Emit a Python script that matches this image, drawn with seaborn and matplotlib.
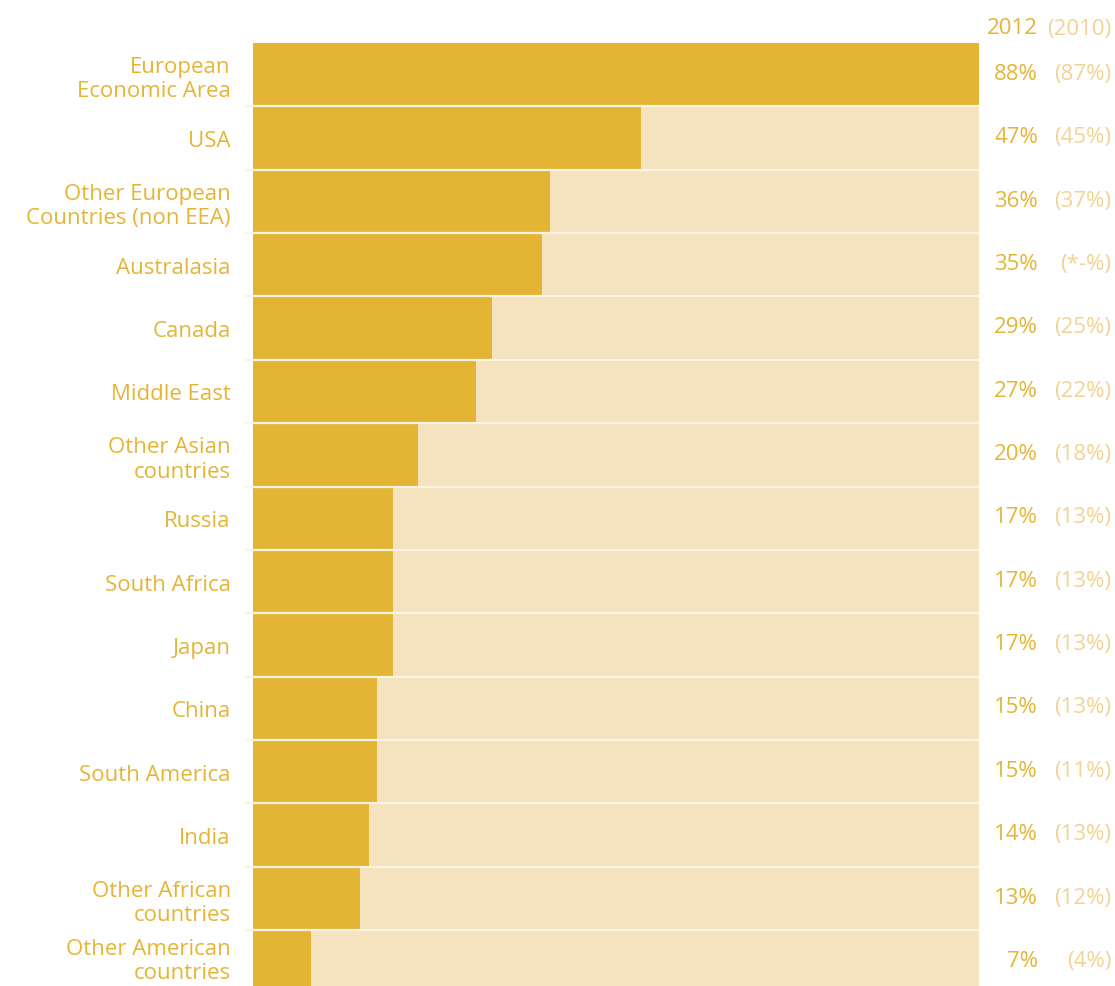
import matplotlib
matplotlib.use("Agg")
import matplotlib.pyplot as plt
import matplotlib.transforms as mtransforms
import seaborn as sns
import pandas as pd

# Share of respondents by region, 2012 with 2010 in brackets
regions = [
    "European\nEconomic Area", "USA", "Other European\nCountries (non EEA)",
    "Australasia", "Canada", "Middle East", "Other Asian\ncountries", "Russia",
    "South Africa", "Japan", "China", "South America", "India",
    "Other African\ncountries", "Other American\ncountries",
]
pct_2012 = [88, 47, 36, 35, 29, 27, 20, 17, 17, 17, 15, 15, 14, 13, 7]
pct_2010 = [87, 45, 37, None, 25, 22, 18, 13, 13, 13, 13, 11, 13, 12, 4]
year_labels = ["2012", "(2010)"]

GOLD = "#E4B535"
CREAM = "#F5E3BF"
PALE = "#F1D394"
SEP = "#FCF3E3"
FS = 16
W = "normal"

sns.set_theme(style="white")
plt.rcParams["font.family"] = ["Open Sans", "DejaVu Sans"]

df = pd.DataFrame({"region": regions, "v2012": pct_2012})
df["track"] = max(pct_2012)

fig = plt.figure(figsize=(11.15, 9.87), dpi=100)
ax = fig.add_axes([253 / 1115, 0, (979 - 253) / 1115, 1 - 44 / 987])

sns.barplot(data=df, y="region", x="track", color=CREAM, width=1.0,
            saturation=1, orient="h", ax=ax)
sns.barplot(data=df, y="region", x="v2012", color=GOLD, width=1.0,
            saturation=1, orient="h", ax=ax)
for p in ax.patches:
    p.set_edgecolor("none")

n = len(regions)
rows_visible = (987 - 44) / ((931 - 44) / 14)
ax.set_ylim(-0.5 + rows_visible, -0.5)
ax.set_xlim(0, max(pct_2012))

# thin separators between rows, with a short stub left of the bars
sep_tr = mtransforms.blended_transform_factory(ax.transAxes, ax.transData)
for i in range(n - 1):
    ax.plot([-0.011, 1.0], [i + 0.5, i + 0.5], color=SEP, lw=1.6,
            transform=sep_tr, clip_on=False, solid_capstyle="butt")

ax.set_xlabel("")
ax.set_ylabel("")
ax.set_xticks([])
ax.tick_params(axis="y", length=0, pad=16, labelsize=FS, labelcolor=GOLD)
for lab in ax.get_yticklabels():
    lab.set_linespacing(1.2)
    lab.set_fontweight(W)
for s in ax.spines.values():
    s.set_visible(False)

# keep the bottom label fully inside the canvas
last = ax.yaxis.get_major_ticks()[-1]
last.label1.set_transform(last.label1.get_transform()
                          + mtransforms.ScaledTranslation(0, 4 / 72, fig.dpi_scale_trans))

# value columns on the right
val_tr = mtransforms.blended_transform_factory(fig.transFigure, ax.transData)
for i, (a, b) in enumerate(zip(pct_2012, pct_2010)):
    ax.text(1038 / 1115, i - 0.02, f"{a}%", transform=val_tr, ha="right",
            va="center", fontsize=FS, fontweight=W, color=GOLD, clip_on=False)
    b_txt = "*-" if b is None else str(b)
    ax.text(1111 / 1115, i - 0.02, f"({b_txt}%)", transform=val_tr, ha="right",
            va="center", fontsize=FS, fontweight=W, color=PALE, clip_on=False)

fig.text(1038 / 1115, 1 - 29 / 987, year_labels[0], ha="right", va="center",
         fontsize=FS, fontweight=W, color=GOLD)
fig.text(1111 / 1115, 1 - 29 / 987, year_labels[1], ha="right", va="center",
         fontsize=FS, fontweight=W, color=PALE)

fig.savefig("out.png", dpi=100, facecolor="white")
